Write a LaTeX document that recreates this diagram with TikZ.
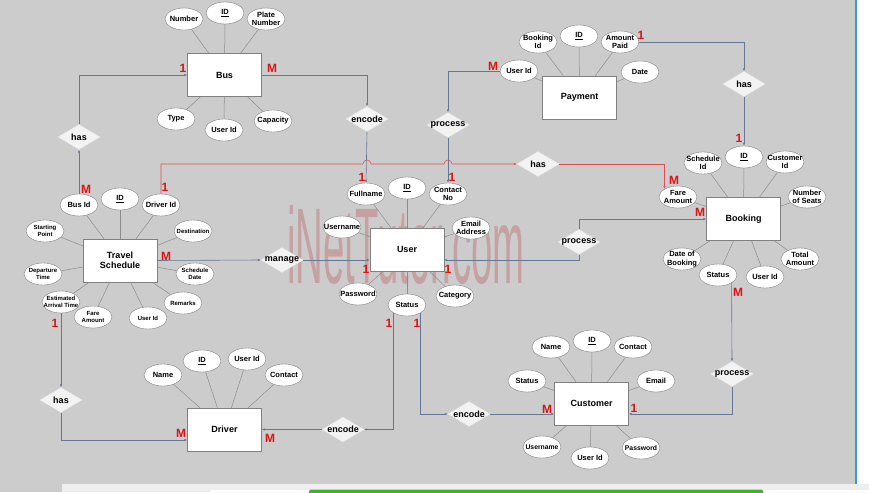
\documentclass[tikz,border=0pt]{standalone}
\usepackage{fontspec}
\setmainfont{Liberation Sans}
\usepackage{graphicx}
\usetikzlibrary{arrows.meta,shapes.geometric}
\definecolor{ERbg}{RGB}{204,204,204}
\definecolor{ERedge}{RGB}{128,128,128}
\definecolor{ERattr}{RGB}{140,140,140}
\definecolor{ERlink}{RGB}{100,120,150}
\definecolor{ERred}{RGB}{225,80,80}
\definecolor{ERcard}{RGB}{220,20,20}
\definecolor{ERrel}{RGB}{243,243,243}
\definecolor{ERmark}{RGB}{190,110,110}
\definecolor{ERstrip}{RGB}{238,238,238}
\definecolor{ERgreen}{RGB}{60,180,40}
\definecolor{ERblue}{RGB}{60,150,230}

\begin{document}
\begin{tikzpicture}[
    x=1pt, y=-1pt,
    entity/.style={
      draw=ERedge,
      fill=white,
      align=center,
      font=\bfseries\fontsize{9}{10.5}\selectfont,
      minimum width=74pt,
      minimum height=43pt
    },
    attr/.style={
      ellipse,
      draw=ERedge,
      fill=white,
      align=center,
      font=\bfseries\fontsize{7.5}{8.2}\selectfont,
      minimum width=38pt,
      minimum height=22pt,
      inner xsep=-20pt,
      inner ysep=0pt
    },
    tiny/.style={font=\bfseries\fontsize{6}{6.6}\selectfont},
    rel/.style={
      diamond,
      draw=white!80!ERedge,
      fill=ERrel,
      font=\bfseries\fontsize{9}{10}\selectfont,
      minimum width=42pt,
      minimum height=25pt,
      inner xsep=-18pt,
      inner ysep=0pt
    },
    card/.style={text=ERcard, font=\bfseries\fontsize{12}{12}\selectfont, inner sep=0pt},
    attline/.style={draw=ERattr, line width=0.5pt},
    link/.style={draw=ERlink, line width=0.6pt, -{Latex[length=3pt,width=2.5pt]}},
    redlink/.style={draw=ERred, line width=0.6pt, -{Latex[length=3pt,width=2.5pt]}}
  ]
  \useasboundingbox (0,0) rectangle (869,492);

  % page background
  \fill[ERbg] (0,0) rectangle (856,492);
  \fill[white] (856,0) rectangle (869,484);
  \fill[ERstrip] (62,484) rectangle (869,492);
  \fill[white] (211,490) rectangle (869,492);
  \fill[ERgreen, rounded corners=1.5pt] (309,489.5) rectangle (763,494);
  \draw[ERblue, line width=1.2pt] (856,0) -- (856,484);

  % watermark
  \node[text=ERmark, opacity=0.45, inner sep=0pt] (wm) at (406,245)
    {\resizebox{237pt}{78pt}{iNetTutor.com}};

  % entities
  \node[entity] (bus) at (224.5,75) {Bus};
  \node[entity] (payment) at (579.5,97.5) {Payment};
  \node[entity] (booking) at (743.5,219) {Booking};
  \node[entity] (user) at (407,249.5) {User};
  \node[entity] (travel) at (120,260.5) {Travel\\Schedule};
  \node[entity] (driver) at (224.5,429.5) {Driver};
  \node[entity] (customer) at (591.5,403.5) {Customer};

  % bus attributes
  \node[attr] (bnum) at (184,19) {Number};
  \node[attr] (bid) at (225,13) {\underline{ID}};
  \node[attr] (bplate) at (266,19) {Plate\\Number};
  \node[attr] (btype) at (176,119) {Type};
  \node[attr] (buser) at (224,130) {User Id};
  \node[attr] (bcap) at (273,121) {Capacity};

  % payment attributes
  \node[attr] (pbook) at (538,42) {Booking\\Id};
  \node[attr] (pid) at (579,36) {\underline{ID}};
  \node[attr] (pamt) at (620,42) {Amount\\Paid};
  \node[attr] (puser) at (519,71) {User Id};
  \node[attr] (pdate) at (640,72) {Date};

  % booking attributes
  \node[attr] (kid) at (744,157) {\underline{ID}};
  \node[attr] (ksched) at (703,163) {Schedule\\Id};
  \node[attr] (kcust) at (785,162) {Customer\\Id};
  \node[attr] (kfare) at (678,197) {Fare\\Amount};
  \node[attr] (kseats) at (807,197) {Number\\of Seats};
  \node[attr] (kdate) at (682,259) {Date of\\Booking};
  \node[attr] (kstat) at (718,275) {Status};
  \node[attr] (kuser) at (765,277) {User Id};
  \node[attr] (ktotal) at (800,259) {Total\\Amount};

  % user attributes
  \node[attr] (ufull) at (366,194) {Fullname};
  \node[attr] (uid) at (407,188) {\underline{ID}};
  \node[attr] (ucont) at (448,194) {Contact\\No};
  \node[attr] (uname) at (342,227) {Username};
  \node[attr] (umail) at (471,228) {Email\\Address};
  \node[attr] (upass) at (358,294) {Password};
  \node[attr] (ustat) at (407,305) {Status};
  \node[attr] (ucat) at (455,296) {Category};

  % travel schedule attributes
  \node[attr] (tbus) at (79,205) {Bus Id};
  \node[attr] (tid) at (120,199) {\underline{ID}};
  \node[attr] (tdrv) at (161,205) {Driver Id};
  \node[attr, tiny] (tstart) at (45,231) {Starting\\Point};
  \node[attr, tiny] (tdest) at (193,231) {Destination};
  \node[attr, tiny] (tdep) at (43,274) {Departure\\Time};
  \node[attr, tiny] (tsdate) at (195,274) {Schedule\\Date};
  \node[attr, tiny] (teta) at (61,302) {Estimated\\Arrival Time};
  \node[attr, tiny] (tfare) at (93,317) {Fare\\Amount};
  \node[attr, tiny] (tuser) at (148,318) {User Id};
  \node[attr, tiny] (trem) at (183,303) {Remarks};

  % driver attributes
  \node[attr] (dname) at (163,375) {Name};
  \node[attr] (did) at (202,361) {\underline{ID}};
  \node[attr] (duser) at (247,359) {User Id};
  \node[attr] (dcont) at (284,375) {Contact};

  % customer attributes
  \node[attr] (cname) at (551,347) {Name};
  \node[attr] (cid) at (592,341) {\underline{ID}};
  \node[attr] (ccont) at (633,347) {Contact};
  \node[attr] (cstat) at (527,381) {Status};
  \node[attr] (cmail) at (656,381) {Email};
  \node[attr, font=\bfseries\fontsize{6.8}{7.5}\selectfont] (cuname) at (542,447) {Username};
  \node[attr] (cuser) at (590,458) {User Id};
  \node[attr, font=\bfseries\fontsize{6.8}{7.5}\selectfont] (cpass) at (641,448) {Password};

  % relationships
  \node[rel] (hasbus) at (79,137) {has};
  \node[rel] (encbus) at (367,119) {encode};
  \node[rel] (procpay) at (448,125) {process};
  \node[rel] (haspay) at (744,84) {has};
  \node[rel] (hasfare) at (538,164) {has};
  \node[rel] (procbook) at (579,242) {process};
  \node[rel] (manage) at (282,260) {manage};
  \node[rel] (hasdrv) at (61,400) {has};
  \node[rel] (encdrv) at (343,429.5) {encode};
  \node[rel] (enccust) at (469,414) {encode};
  \node[rel] (proccust) at (732,374) {process};

  % attribute lines
  \foreach \a in {bnum,bid,bplate,btype,buser,bcap}
    \draw[attline] (bus) -- (\a);
  \foreach \a in {pbook,pid,pamt,puser,pdate}
    \draw[attline] (payment) -- (\a);
  \foreach \a in {kid,ksched,kcust,kfare,kseats,kdate,kstat,kuser,ktotal}
    \draw[attline] (booking) -- (\a);
  \foreach \a in {ufull,uid,ucont,uname,umail,upass,ustat,ucat}
    \draw[attline] (user) -- (\a);
  \foreach \a in {tbus,tid,tdrv,tstart,tdest,tdep,tsdate,teta,tfare,tuser,trem}
    \draw[attline] (travel) -- (\a);
  \foreach \a in {dname,did,duser,dcont}
    \draw[attline] (driver) -- (\a);
  \foreach \a in {cname,cid,ccont,cstat,cmail,cuname,cuser,cpass}
    \draw[attline] (customer) -- (\a);

  % connectors
  \draw[link] (tbus.north) -- (hasbus.south);
  \draw[link] (hasbus.north) |- (bus.west);
  \draw[link] (bus.east) -| (encbus.north);
  \draw[link] (encbus.south) -- (ufull.north);
  \draw[link] (puser.west) -| (procpay.north);
  \draw[link] (procpay.south) -- (ucont.north);
  \draw[link] (pamt.east) -| (haspay.north);
  \draw[link] (haspay.south) -- (kid.north);
  \draw[redlink] (tdrv.north) |- ([xshift=-4pt]encbus.south |- hasfare.west)
    arc[start angle=180, end angle=0, radius=4pt]
    -- ([xshift=-4pt]procpay.south |- hasfare.west)
    arc[start angle=180, end angle=0, radius=4pt] -- (hasfare.west);
  \draw[redlink] (hasfare.east) -| (kfare.north west);
  \draw[link] (procbook.north) |- (booking.west);
  \draw[link] (procbook.south) |- (manage -| user.east);
  \draw[link] (travel.east) -- (manage.west);
  \draw[link] (manage.east) -- (manage -| user.west);
  \draw[link] (teta.south) -- (hasdrv.north);
  \draw[link] (hasdrv.south) |- ([yshift=-10.5pt]driver.west);
  \draw[link] (ustat.south west) |- (encdrv.east);
  \draw[link] (encdrv.west) -- (driver.east);
  \draw[link] (ustat.south east) |- (enccust.west);
  \draw[link] (enccust.east) -- (enccust -| customer.west);
  \draw[link] (kstat.south east) -- (proccust.north);
  \draw[link] (proccust.south) |- (enccust -| customer.east);

  % cardinalities
  \node[card] (c1) at (183,68) {1};
  \node[card] (c2) at (272,68) {M};
  \node[card] (c3) at (86,189) {M};
  \node[card] (c4) at (165,187) {1};
  \node[card] (c5) at (362,177) {1};
  \node[card] (c6) at (452,177) {1};
  \node[card] (c7) at (493,66) {M};
  \node[card] (c8) at (641,35) {1};
  \node[card] (c9) at (739,138) {1};
  \node[card] (c10) at (674,180) {M};
  \node[card] (c11) at (700,212) {M};
  \node[card] (c12) at (738,292) {M};
  \node[card] (c13) at (166,256) {M};
  \node[card] (c14) at (366,269) {1};
  \node[card] (c15) at (448,269) {1};
  \node[card] (c16) at (55,323) {1};
  \node[card] (c17) at (181,433) {M};
  \node[card] (c18) at (270,438) {M};
  \node[card] (c19) at (389,323) {1};
  \node[card] (c20) at (417,323) {1};
  \node[card] (c21) at (547,409) {M};
  \node[card] (c22) at (634,408) {1};
\end{tikzpicture}
\end{document}
